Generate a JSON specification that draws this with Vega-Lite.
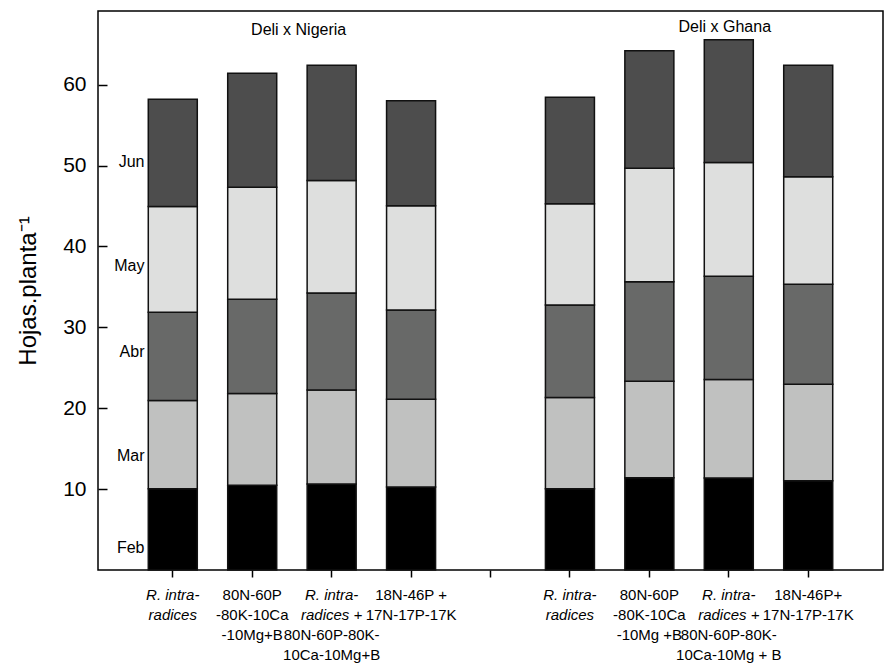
{
  "$schema": "https://vega.github.io/schema/vega-lite/v6.json",
  "width": 785,
  "height": 559,
  "autosize": "none",
  "padding": {"left": 98, "top": 11, "right": 3, "bottom": 94},
  "background": "white",
  "config": {
    "font": "Liberation Sans",
    "view": {"stroke": "#000000", "strokeWidth": 1.5},
    "axis": {"grid": false, "domain": false, "labelColor": "#000000", "tickColor": "#000000", "titleColor": "#000000", "labelFont": "Liberation Sans", "titleFont": "Liberation Sans"}
  },
  "data": {
    "values": [
      {"slot": "N1", "group": "Deli x Nigeria", "treatment": "R. intra-radices", "month": "Feb", "month_num": 2, "leaves": 10.04},
      {"slot": "N1", "group": "Deli x Nigeria", "treatment": "R. intra-radices", "month": "Mar", "month_num": 3, "leaves": 10.91},
      {"slot": "N1", "group": "Deli x Nigeria", "treatment": "R. intra-radices", "month": "Abr", "month_num": 4, "leaves": 10.90},
      {"slot": "N1", "group": "Deli x Nigeria", "treatment": "R. intra-radices", "month": "May", "month_num": 5, "leaves": 13.09},
      {"slot": "N1", "group": "Deli x Nigeria", "treatment": "R. intra-radices", "month": "Jun", "month_num": 6, "leaves": 13.25},
      {"slot": "N2", "group": "Deli x Nigeria", "treatment": "80N-60P-80K-10Ca-10Mg+B", "month": "Feb", "month_num": 2, "leaves": 10.49},
      {"slot": "N2", "group": "Deli x Nigeria", "treatment": "80N-60P-80K-10Ca-10Mg+B", "month": "Mar", "month_num": 3, "leaves": 11.32},
      {"slot": "N2", "group": "Deli x Nigeria", "treatment": "80N-60P-80K-10Ca-10Mg+B", "month": "Abr", "month_num": 4, "leaves": 11.65},
      {"slot": "N2", "group": "Deli x Nigeria", "treatment": "80N-60P-80K-10Ca-10Mg+B", "month": "May", "month_num": 5, "leaves": 13.86},
      {"slot": "N2", "group": "Deli x Nigeria", "treatment": "80N-60P-80K-10Ca-10Mg+B", "month": "Jun", "month_num": 6, "leaves": 14.08},
      {"slot": "N3", "group": "Deli x Nigeria", "treatment": "R. intra-radices + 80N-60P-80K-10Ca-10Mg+B", "month": "Feb", "month_num": 2, "leaves": 10.62},
      {"slot": "N3", "group": "Deli x Nigeria", "treatment": "R. intra-radices + 80N-60P-80K-10Ca-10Mg+B", "month": "Mar", "month_num": 3, "leaves": 11.64},
      {"slot": "N3", "group": "Deli x Nigeria", "treatment": "R. intra-radices + 80N-60P-80K-10Ca-10Mg+B", "month": "Abr", "month_num": 4, "leaves": 11.97},
      {"slot": "N3", "group": "Deli x Nigeria", "treatment": "R. intra-radices + 80N-60P-80K-10Ca-10Mg+B", "month": "May", "month_num": 5, "leaves": 13.92},
      {"slot": "N3", "group": "Deli x Nigeria", "treatment": "R. intra-radices + 80N-60P-80K-10Ca-10Mg+B", "month": "Jun", "month_num": 6, "leaves": 14.23},
      {"slot": "N4", "group": "Deli x Nigeria", "treatment": "18N-46P + 17N-17P-17K", "month": "Feb", "month_num": 2, "leaves": 10.25},
      {"slot": "N4", "group": "Deli x Nigeria", "treatment": "18N-46P + 17N-17P-17K", "month": "Mar", "month_num": 3, "leaves": 10.86},
      {"slot": "N4", "group": "Deli x Nigeria", "treatment": "18N-46P + 17N-17P-17K", "month": "Abr", "month_num": 4, "leaves": 11.03},
      {"slot": "N4", "group": "Deli x Nigeria", "treatment": "18N-46P + 17N-17P-17K", "month": "May", "month_num": 5, "leaves": 12.88},
      {"slot": "N4", "group": "Deli x Nigeria", "treatment": "18N-46P + 17N-17P-17K", "month": "Jun", "month_num": 6, "leaves": 13.00},
      {"slot": "G1", "group": "Deli x Ghana", "treatment": "R. intra-radices", "month": "Feb", "month_num": 2, "leaves": 10.04},
      {"slot": "G1", "group": "Deli x Ghana", "treatment": "R. intra-radices", "month": "Mar", "month_num": 3, "leaves": 11.28},
      {"slot": "G1", "group": "Deli x Ghana", "treatment": "R. intra-radices", "month": "Abr", "month_num": 4, "leaves": 11.43},
      {"slot": "G1", "group": "Deli x Ghana", "treatment": "R. intra-radices", "month": "May", "month_num": 5, "leaves": 12.52},
      {"slot": "G1", "group": "Deli x Ghana", "treatment": "R. intra-radices", "month": "Jun", "month_num": 6, "leaves": 13.16},
      {"slot": "G2", "group": "Deli x Ghana", "treatment": "80N-60P-80K-10Ca-10Mg+B", "month": "Feb", "month_num": 2, "leaves": 11.40},
      {"slot": "G2", "group": "Deli x Ghana", "treatment": "80N-60P-80K-10Ca-10Mg+B", "month": "Mar", "month_num": 3, "leaves": 11.93},
      {"slot": "G2", "group": "Deli x Ghana", "treatment": "80N-60P-80K-10Ca-10Mg+B", "month": "Abr", "month_num": 4, "leaves": 12.31},
      {"slot": "G2", "group": "Deli x Ghana", "treatment": "80N-60P-80K-10Ca-10Mg+B", "month": "May", "month_num": 5, "leaves": 14.03},
      {"slot": "G2", "group": "Deli x Ghana", "treatment": "80N-60P-80K-10Ca-10Mg+B", "month": "Jun", "month_num": 6, "leaves": 14.53},
      {"slot": "G3", "group": "Deli x Ghana", "treatment": "R. intra-radices + 80N-60P-80K-10Ca-10Mg+B", "month": "Feb", "month_num": 2, "leaves": 11.36},
      {"slot": "G3", "group": "Deli x Ghana", "treatment": "R. intra-radices + 80N-60P-80K-10Ca-10Mg+B", "month": "Mar", "month_num": 3, "leaves": 12.18},
      {"slot": "G3", "group": "Deli x Ghana", "treatment": "R. intra-radices + 80N-60P-80K-10Ca-10Mg+B", "month": "Abr", "month_num": 4, "leaves": 12.76},
      {"slot": "G3", "group": "Deli x Ghana", "treatment": "R. intra-radices + 80N-60P-80K-10Ca-10Mg+B", "month": "May", "month_num": 5, "leaves": 14.07},
      {"slot": "G3", "group": "Deli x Ghana", "treatment": "R. intra-radices + 80N-60P-80K-10Ca-10Mg+B", "month": "Jun", "month_num": 6, "leaves": 15.19},
      {"slot": "G4", "group": "Deli x Ghana", "treatment": "18N-46P + 17N-17P-17K", "month": "Feb", "month_num": 2, "leaves": 11.02},
      {"slot": "G4", "group": "Deli x Ghana", "treatment": "18N-46P + 17N-17P-17K", "month": "Mar", "month_num": 3, "leaves": 11.94},
      {"slot": "G4", "group": "Deli x Ghana", "treatment": "18N-46P + 17N-17P-17K", "month": "Abr", "month_num": 4, "leaves": 12.35},
      {"slot": "G4", "group": "Deli x Ghana", "treatment": "18N-46P + 17N-17P-17K", "month": "May", "month_num": 5, "leaves": 13.29},
      {"slot": "G4", "group": "Deli x Ghana", "treatment": "18N-46P + 17N-17P-17K", "month": "Jun", "month_num": 6, "leaves": 13.78}
    ]
  },
  "layer": [
    {
      "mark": {"type": "bar", "stroke": "#111111", "strokeWidth": 1.5},
      "encoding": {
        "x": {
          "field": "slot", "type": "nominal",
          "scale": {"domain": ["N1", "N2", "N3", "N4", "gap", "G1", "G2", "G3", "G4"], "paddingInner": 0.383, "paddingOuter": 0.633},
          "axis": {
            "orient": "bottom", "title": null, "labelAngle": 0, "ticks": true, "tickSize": 7, "tickWidth": 1.5,
            "labelPadding": 10, "labelFontSize": 15, "labelFontStyle": "italic", "labelLineHeight": 20,
            "labelBaseline": "top", "labelAlign": "center",
            "labelExpr": "datum.value == 'N1' || datum.value == 'G1' ? ['R. intra-', 'radices'] : datum.value == 'N3' || datum.value == 'G3' ? ['R. intra-', 'radices +'] : ''"
          }
        },
        "y": {
          "field": "leaves", "type": "quantitative", "stack": "zero",
          "scale": {"domain": [0, 69.1], "nice": false, "zero": true},
          "axis": {
            "orient": "left", "title": "Hojas.planta⁻¹", "titleFontSize": 24, "titleFontWeight": "normal", "titlePadding": 22,
            "values": [10, 20, 30, 40, 50, 60], "tickSize": -9, "tickWidth": 1.5, "labelPadding": 21,
            "labelFontSize": 21, "labelFlush": false
          }
        },
        "color": {
          "field": "month", "type": "nominal",
          "scale": {"domain": ["Feb", "Mar", "Abr", "May", "Jun"], "range": ["#000000", "#c0c1c0", "#686968", "#dedfde", "#4d4d4d"]},
          "legend": null
        },
        "order": {"field": "month_num", "type": "quantitative", "sort": "ascending"}
      }
    },
    {
      "mark": {"type": "bar", "opacity": 0},
      "encoding": {
        "x": {
          "field": "slot", "type": "nominal",
          "scale": {"domain": ["N1", "N2", "N3", "N4", "gap", "G1", "G2", "G3", "G4"], "paddingInner": 0.383, "paddingOuter": 0.633},
          "axis": {
            "orient": "bottom", "title": null, "labelAngle": 0, "ticks": false, "tickSize": 0,
            "labelPadding": 17, "labelFontSize": 15, "labelFontStyle": "normal", "labelLineHeight": 20,
            "labelBaseline": "top", "labelAlign": "center",
            "labelExpr": "datum.value == 'N2' ? ['80N-60P', '-80K-10Ca', '-10Mg+B'] : datum.value == 'N4' ? ['18N-46P +', '17N-17P-17K'] : datum.value == 'G2' ? ['80N-60P', '-80K-10Ca', '-10Mg +B'] : datum.value == 'G4' ? ['18N-46P+', '17N-17P-17K'] : ''"
          }
        },
        "y": {
          "field": "leaves", "type": "quantitative", "stack": "zero",
          "scale": {"domain": [0, 69.1], "nice": false, "zero": true},
          "axis": {
            "orient": "left", "title": null, "values": [2.8, 14.2, 26.95, 37.7, 50.5],
            "ticks": false, "tickSize": 0, "labelPadding": -46, "labelAlign": "right", "labelBaseline": "middle",
            "labelFontSize": 16, "labelFlush": false, "labelOverlap": false,
            "labelExpr": "datum.value < 8 ? 'Feb' : datum.value < 20 ? 'Mar' : datum.value < 32 ? 'Abr' : datum.value < 44 ? 'May' : 'Jun'"
          }
        },
        "order": {"field": "month_num", "type": "quantitative", "sort": "ascending"}
      }
    },
    {
      "mark": {"type": "bar", "opacity": 0},
      "encoding": {
        "x": {
          "field": "slot", "type": "nominal",
          "scale": {"domain": ["N1", "N2", "N3", "N4", "gap", "G1", "G2", "G3", "G4"], "paddingInner": 0.383, "paddingOuter": 0.633},
          "axis": {
            "orient": "bottom", "title": null, "labelAngle": 0, "ticks": false, "tickSize": 0,
            "labelPadding": 57, "labelFontSize": 15, "labelFontStyle": "normal", "labelLineHeight": 20,
            "labelBaseline": "top", "labelAlign": "center",
            "labelExpr": "datum.value == 'N3' ? ['80N-60P-80K-', '10Ca-10Mg+B'] : datum.value == 'G3' ? ['80N-60P-80K-', '10Ca-10Mg + B'] : ''"
          }
        },
        "y": {
          "field": "leaves", "type": "quantitative", "stack": "zero",
          "scale": {"domain": [0, 69.1], "nice": false, "zero": true},
          "axis": null
        },
        "order": {"field": "month_num", "type": "quantitative", "sort": "ascending"}
      }
    },
    {
      "data": {"values": [{"label": "Deli x Nigeria"}]},
      "mark": {"type": "text", "fontSize": 16, "font": "Liberation Sans", "color": "#000000", "align": "center", "baseline": "middle", "dx": -33},
      "encoding": {
        "x": {"datum": "N3", "type": "nominal", "scale": {"domain": ["N1", "N2", "N3", "N4", "gap", "G1", "G2", "G3", "G4"], "paddingInner": 0.383, "paddingOuter": 0.633}, "axis": null},
        "y": {"datum": 66.8, "type": "quantitative", "scale": {"domain": [0, 69.1], "nice": false}, "axis": null},
        "text": {"field": "label", "type": "nominal"}
      }
    },
    {
      "data": {"values": [{"label": "Deli x Ghana"}]},
      "mark": {"type": "text", "fontSize": 16, "font": "Liberation Sans", "color": "#000000", "align": "center", "baseline": "middle", "dx": -4},
      "encoding": {
        "x": {"datum": "G3", "type": "nominal", "scale": {"domain": ["N1", "N2", "N3", "N4", "gap", "G1", "G2", "G3", "G4"], "paddingInner": 0.383, "paddingOuter": 0.633}, "axis": null},
        "y": {"datum": 67.1, "type": "quantitative", "scale": {"domain": [0, 69.1], "nice": false}, "axis": null},
        "text": {"field": "label", "type": "nominal"}
      }
    }
  ],
  "resolve": {"axis": {"x": "independent", "y": "independent"}}
}
